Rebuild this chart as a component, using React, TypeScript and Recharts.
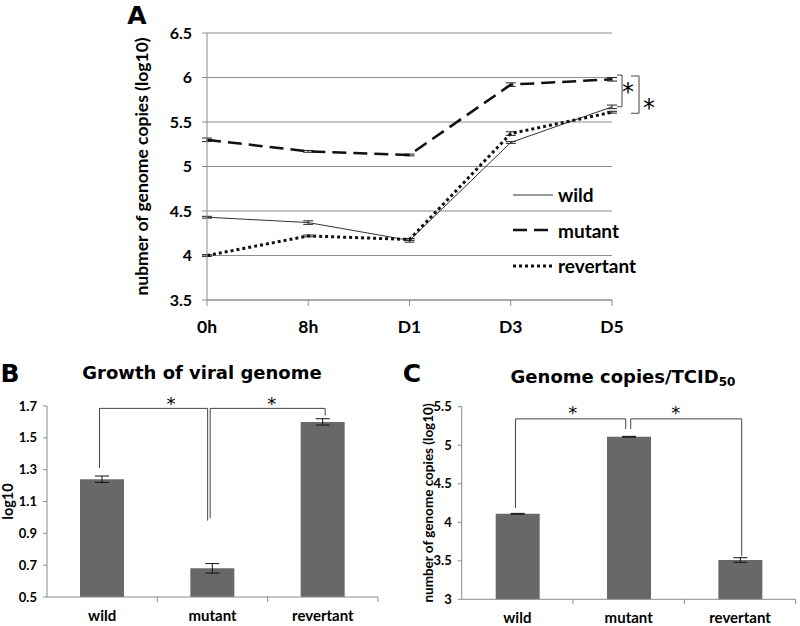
import React from "react";
import {
  LineChart,
  Line,
  BarChart,
  Bar,
  XAxis,
  YAxis,
  CartesianGrid,
  ErrorBar,
  ReferenceLine,
  ReferenceDot,
  Legend,
} from "recharts";

// ---- panel A: genome copies over time ----
const timePoints = ["0h", "8h", "D1", "D3", "D5"];
const wild = [4.43, 4.37, 4.17, 5.27, 5.67];
const wildErr = [0.01, 0.02, 0.02, 0.01, 0.02];
const mutant = [5.3, 5.17, 5.13, 5.92, 5.98];
const mutantErr = [0.02, 0.01, 0.01, 0.02, 0.02];
const revertant = [4.0, 4.22, 4.18, 5.37, 5.61];
const revertantErr = [0.01, 0.01, 0.01, 0.02, 0.01];
const ticksA = [3.5, 4, 4.5, 5, 5.5, 6, 6.5];

// ---- panels B and C ----
const strains = ["wild", "mutant", "revertant"];
const growth = [1.24, 0.68, 1.6];
const growthErr = [0.02, 0.03, 0.02];
const ticksB = [0.5, 0.7, 0.9, 1.1, 1.3, 1.5, 1.7];
const perTcid = [4.11, 5.11, 3.51];
const perTcidErr = [0.005, 0.005, 0.03];
const ticksC = [3, 3.5, 4, 4.5, 5, 5.5];

// significance brackets (polylines in data units) and star marks
type Pt = [number, number];
const bracketsA: Pt[][] = [
  [[4.05, 6.028], [4.099, 6.028], [4.099, 5.672], [4.05, 5.672]],
  [[4.188, 6.017], [4.267, 6.017], [4.267, 5.598], [4.188, 5.598]],
];
const starsA: Pt[] = [[4.158, 5.84], [4.365, 5.66]];
const bracketsB: Pt[][] = [
  [[0.476, 1.31], [0.476, 1.685], [1.456, 1.685], [1.456, 0.98]],
  [[1.479, 0.995], [1.479, 1.685], [2.521, 1.685], [2.521, 1.64]],
];
const starsB: Pt[] = [[1.123, 1.715], [2.038, 1.715]];
const bracketsC: Pt[][] = [
  [[0.483, 4.186], [0.483, 5.342], [1.473, 5.342], [1.473, 5.21]],
  [[1.518, 5.21], [1.518, 5.342], [2.515, 5.342], [2.515, 3.56]],
];
const starsC: Pt[] = [[0.998, 5.42], [1.922, 5.42]];

const FONT = "Lato, 'Open Sans', sans-serif";
const AXIS = "#8c8c8c";

const seriesA = [
  { key: "wild", values: wild, err: wildErr, width: 1, dash: undefined as string | undefined, color: "#333" },
  { key: "mutant", values: mutant, err: mutantErr, width: 2.5, dash: "14 7", color: "#111" },
  { key: "revertant", values: revertant, err: revertantErr, width: 3, dash: "3 3", color: "#111" },
];

const dataA = timePoints.map((t, i) => {
  const row: Record<string, number | string> = { x: i, label: t };
  seriesA.forEach((s) => {
    row[s.key] = s.values[i];
    row[s.key + "Err"] = s.err[i];
  });
  return row;
});

const dataB = strains.map((s, i) => ({ name: s, value: growth[i], err: growthErr[i] }));
const dataC = strains.map((s, i) => ({ name: s, value: perTcid[i], err: perTcidErr[i] }));

function brackets(list: Pt[][], xAxisId: number | string) {
  return list.flatMap((b, i) =>
    b.slice(1).map((p, j) => (
      <ReferenceLine
        key={`br-${i}-${j}`}
        xAxisId={xAxisId}
        segment={[
          { x: b[j][0], y: b[j][1] },
          { x: p[0], y: p[1] },
        ]}
        stroke="#444"
        strokeWidth={1}
        ifOverflow="visible"
      />
    ))
  );
}

function stars(list: Pt[], xAxisId: number | string, size: number) {
  return list.map((p, i) => (
    <ReferenceDot
      key={`st-${i}`}
      xAxisId={xAxisId}
      x={p[0]}
      y={p[1]}
      r={0}
      fill="none"
      stroke="none"
      ifOverflow="visible"
      label={{
        value: "*",
        position: "center",
        fontSize: size,
        fill: "#000",
        stroke: "none",
        fontFamily: "DejaVu Sans",
        style: { fill: "#000" },
      }}
    />
  ));
}

// transparent chart laid over a bar panel, numeric x from 0 to 3 across the plot
function BracketOverlay(props: {
  width: number;
  height: number;
  margin: { top: number; right: number; bottom: number; left: number };
  yDomain: [number, number];
  lines: Pt[][];
  marks: Pt[];
}) {
  const overlayData = [{ x: 0 }, { x: 3 }];
  return (
    <LineChart width={props.width} height={props.height} data={overlayData} margin={props.margin}>
      <XAxis xAxisId={0} type="number" dataKey="x" domain={[0, 3]} allowDataOverflow hide />
      <YAxis type="number" domain={props.yDomain} allowDataOverflow hide />
      {brackets(props.lines, 0)}
      {stars(props.marks, 0, 18)}
    </LineChart>
  );
}

function LegendA() {
  return (
    <div style={{ fontFamily: FONT, fontWeight: 700, fontSize: 19, color: "#000" }}>
      {seriesA.map((s) => (
        <div key={s.key} style={{ display: "flex", alignItems: "center", height: 35.5 }}>
          <svg width={40} height={6}>
            <line x1={0} y1={3} x2={40} y2={3} stroke={s.color} strokeWidth={s.width} strokeDasharray={s.dash} />
          </svg>
          <span style={{ marginLeft: 5 }}>{s.key}</span>
        </div>
      ))}
    </div>
  );
}

function BandTick(props: any) {
  const { x, y, payload, band } = props;
  return (
    <g>
      <line x1={x + band / 2} x2={x + band / 2} y1={y - 13} y2={y - 8} stroke={AXIS} />
      <text x={x} y={y} dy="0.71em" textAnchor="middle" fill="#000" fontSize={15} fontWeight={700} fontFamily={FONT}>
        {payload.value}
      </text>
    </g>
  );
}

const tickStyle = (size: number) => ({ fill: "#000", fontSize: size, fontWeight: 700, fontFamily: FONT });

const abs = (left: number, top: number): React.CSSProperties => ({ position: "absolute", left, top });

const centered = (x: number, y: number, style: React.CSSProperties): React.CSSProperties => ({
  position: "absolute",
  left: x,
  top: y,
  transform: "translate(-50%, -50%)",
  lineHeight: 1,
  whiteSpace: "nowrap",
  color: "#000",
  ...style,
});

const letterStyle: React.CSSProperties = { fontFamily: "'DejaVu Sans', sans-serif", fontWeight: 900, fontSize: 25 };
const titleStyle: React.CSSProperties = { fontFamily: "'DejaVu Sans', sans-serif", fontWeight: 700, fontSize: 18 };

const marginB = { top: 16, right: 12, bottom: 0, left: 0 };
const marginC = { top: 16.7, right: 4.3, bottom: 0, left: 0 };

export default function App() {
  return (
    <div style={{ position: "absolute", left: 0, top: 0, width: 800, height: 626, background: "#fff", overflow: "hidden" }}>
      <div style={centered(137, 15, letterStyle)}>A</div>
      <div style={centered(10, 373, letterStyle)}>B</div>
      <div style={centered(412, 373, letterStyle)}>C</div>
      <div style={centered(202, 373, titleStyle)}>Growth of viral genome</div>
      <div style={centered(623, 377, titleStyle)}>
        Genome copies/TCID<span style={{ fontSize: 12, position: "relative", top: 3 }}>50</span>
      </div>

      <div style={abs(0, 0)}>
        <LineChart width={800} height={345} data={dataA} margin={{ top: 33, right: 188, bottom: 15, left: 157 }}>
          <CartesianGrid vertical={false} stroke={AXIS} />
          <XAxis
            xAxisId={0}
            type="number"
            dataKey="x"
            domain={[0, 4]}
            ticks={[0, 1, 2, 3, 4]}
            tickFormatter={(v: number) => timePoints[v]}
            height={30}
            stroke={AXIS}
            tickSize={6}
            tickMargin={15}
            tick={tickStyle(17.5)}
          />
          <YAxis
            domain={[3.5, 6.5]}
            ticks={ticksA}
            width={50}
            stroke={AXIS}
            tickSize={5}
            tickMargin={10}
            tick={tickStyle(16)}
            label={{
              value: "nubmer of genome copies (log10)",
              angle: -90,
              position: "insideLeft",
              offset: -15,
              style: { textAnchor: "middle", fontSize: 17.5, fontWeight: 700, fill: "#000", fontFamily: FONT },
            }}
          />
          {seriesA.map((s) => (
            <Line
              key={s.key}
              xAxisId={0}
              type="linear"
              dataKey={s.key}
              stroke={s.color}
              strokeWidth={s.width}
              strokeDasharray={s.dash}
              dot={false}
              isAnimationActive={false}
            >
              <ErrorBar dataKey={s.key + "Err"} direction="y" width={5} stroke="#222" strokeWidth={1} isAnimationActive={false} />
            </Line>
          ))}
          {brackets(bracketsA, 0)}
          {stars(starsA, 0, 24)}
          <Legend
            layout="vertical"
            align="center"
            verticalAlign="middle"
            content={() => <LegendA />}
            wrapperStyle={{ left: 513, top: 177, width: 150 }}
          />
        </LineChart>
      </div>

      <div style={abs(0, 390)}>
        <BarChart width={390} height={236} data={dataB} margin={marginB}>
          <XAxis
            dataKey="name"
            height={29}
            stroke={AXIS}
            tickLine={false}
            tickSize={5}
            tickMargin={8}
            tick={(p: any) => <BandTick {...p} band={110.3} />}
          />
          <YAxis
            domain={[0.5, 1.7]}
            ticks={ticksB}
            width={47}
            stroke={AXIS}
            tickSize={4}
            tickMargin={6}
            tick={tickStyle(13)}
            label={{
              value: "log10",
              angle: -90,
              position: "insideLeft",
              offset: 8,
              style: { textAnchor: "middle", fontSize: 14.5, fontWeight: 700, fill: "#000", fontFamily: FONT },
            }}
          />
          <Bar dataKey="value" fill="#686868" barSize={44} isAnimationActive={false}>
            <ErrorBar dataKey="err" width={7} stroke="#111" strokeWidth={1} isAnimationActive={false} />
          </Bar>
        </BarChart>
      </div>
      <div style={{ ...abs(0, 390), pointerEvents: "none" }}>
        <BracketOverlay
          width={390}
          height={236}
          margin={{ top: 16, right: 12, bottom: 29, left: 47 }}
          yDomain={[0.5, 1.7]}
          lines={bracketsB}
          marks={starsB}
        />
      </div>

      <div style={abs(410, 390)}>
        <BarChart width={390} height={236} data={dataC} margin={marginC}>
          <XAxis
            dataKey="name"
            height={26.7}
            stroke={AXIS}
            tickLine={false}
            tickSize={5}
            tickMargin={8}
            tick={(p: any) => <BandTick {...p} band={111.3} />}
          />
          <YAxis
            domain={[3, 5.5]}
            ticks={ticksC}
            width={51.7}
            stroke={AXIS}
            tickSize={4}
            tickMargin={6}
            tick={tickStyle(13)}
            label={{
              value: "number of genome copies (log10)",
              angle: -90,
              position: "insideLeft",
              offset: 18,
              style: { textAnchor: "middle", fontSize: 13.5, fontWeight: 700, fill: "#000", fontFamily: FONT },
            }}
          />
          <Bar dataKey="value" fill="#686868" barSize={44} isAnimationActive={false}>
            <ErrorBar dataKey="err" width={7} stroke="#111" strokeWidth={1} isAnimationActive={false} />
          </Bar>
        </BarChart>
      </div>
      <div style={{ ...abs(410, 390), pointerEvents: "none" }}>
        <BracketOverlay
          width={390}
          height={236}
          margin={{ top: 16.7, right: 4.3, bottom: 26.7, left: 51.7 }}
          yDomain={[3, 5.5]}
          lines={bracketsC}
          marks={starsC}
        />
      </div>
    </div>
  );
}
